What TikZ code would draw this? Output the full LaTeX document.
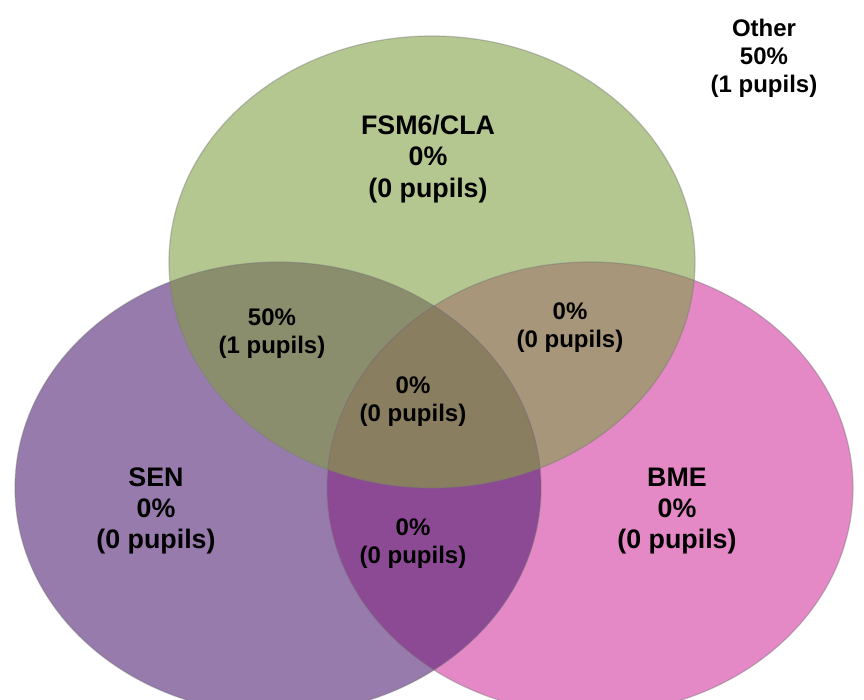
\documentclass[tikz,border=0pt]{standalone}
\usepackage{fontspec}
\setmainfont{Liberation Sans}
\definecolor{cgreen}{HTML}{B5C791}
\definecolor{cpurple}{HTML}{977BAC}
\definecolor{cpink}{HTML}{E589C6}
\definecolor{cgp}{HTML}{8A8E6D}
\definecolor{cgk}{HTML}{A79679}
\definecolor{cpk}{HTML}{8C4A95}
\definecolor{cgpk}{HTML}{8A7E61}
\tikzset{
  mainlbl/.style={align=center, font=\fontsize{26.8}{31.2}\selectfont\bfseries, text=black, inner sep=0pt},
  sublbl/.style={align=center, font=\fontsize{24}{28}\selectfont\bfseries, text=black, inner sep=0pt},
  rim/.style={draw=black!55, draw opacity=0.4, line width=1.2pt},
}
\begin{document}
\begin{tikzpicture}[x=1pt,y=-1pt]
\useasboundingbox (0,0) rectangle (864,700);
\fill[white] (0,0) rectangle (864,700);
% base fills
\fill[cpurple] (278,488) ellipse [x radius=263, y radius=226];
\fill[cpink] (590,488) ellipse [x radius=263, y radius=226];
\fill[cgreen] (432,262) ellipse [x radius=263, y radius=226];
% green & purple
\begin{scope}
  \clip (278,488) ellipse [x radius=263, y radius=226];
  \fill[cgp] (432,262) ellipse [x radius=263, y radius=226];
\end{scope}
% green & pink
\begin{scope}
  \clip (590,488) ellipse [x radius=263, y radius=226];
  \fill[cgk] (432,262) ellipse [x radius=263, y radius=226];
\end{scope}
% purple & pink
\begin{scope}
  \clip (278,488) ellipse [x radius=263, y radius=226];
  \fill[cpk] (590,488) ellipse [x radius=263, y radius=226];
\end{scope}
% all three
\begin{scope}
  \clip (278,488) ellipse [x radius=263, y radius=226];
  \clip (590,488) ellipse [x radius=263, y radius=226];
  \fill[cgpk] (432,262) ellipse [x radius=263, y radius=226];
\end{scope}
% rims
\draw[rim] (278,488) ellipse [x radius=263, y radius=226];
\draw[rim] (590,488) ellipse [x radius=263, y radius=226];
\draw[rim] (432,262) ellipse [x radius=263, y radius=226];
% labels
\node[mainlbl] (fsm) at (428,159) {FSM6/CLA\\0\%\\(0 pupils)};
\node[mainlbl] (sen) at (156,511) {SEN\\0\%\\(0 pupils)};
\node[mainlbl] (bme) at (677,511) {BME\\0\%\\(0 pupils)};
\node[sublbl] (other) at (764,58) {Other\\50\%\\(1 pupils)};
\node[sublbl] (gp) at (272,334) {50\%\\(1 pupils)};
\node[sublbl] (gk) at (570,328) {0\%\\(0 pupils)};
\node[sublbl] (gpk) at (413,402) {0\%\\(0 pupils)};
\node[sublbl] (pk) at (413,544) {0\%\\(0 pupils)};
\end{tikzpicture}
\end{document}
